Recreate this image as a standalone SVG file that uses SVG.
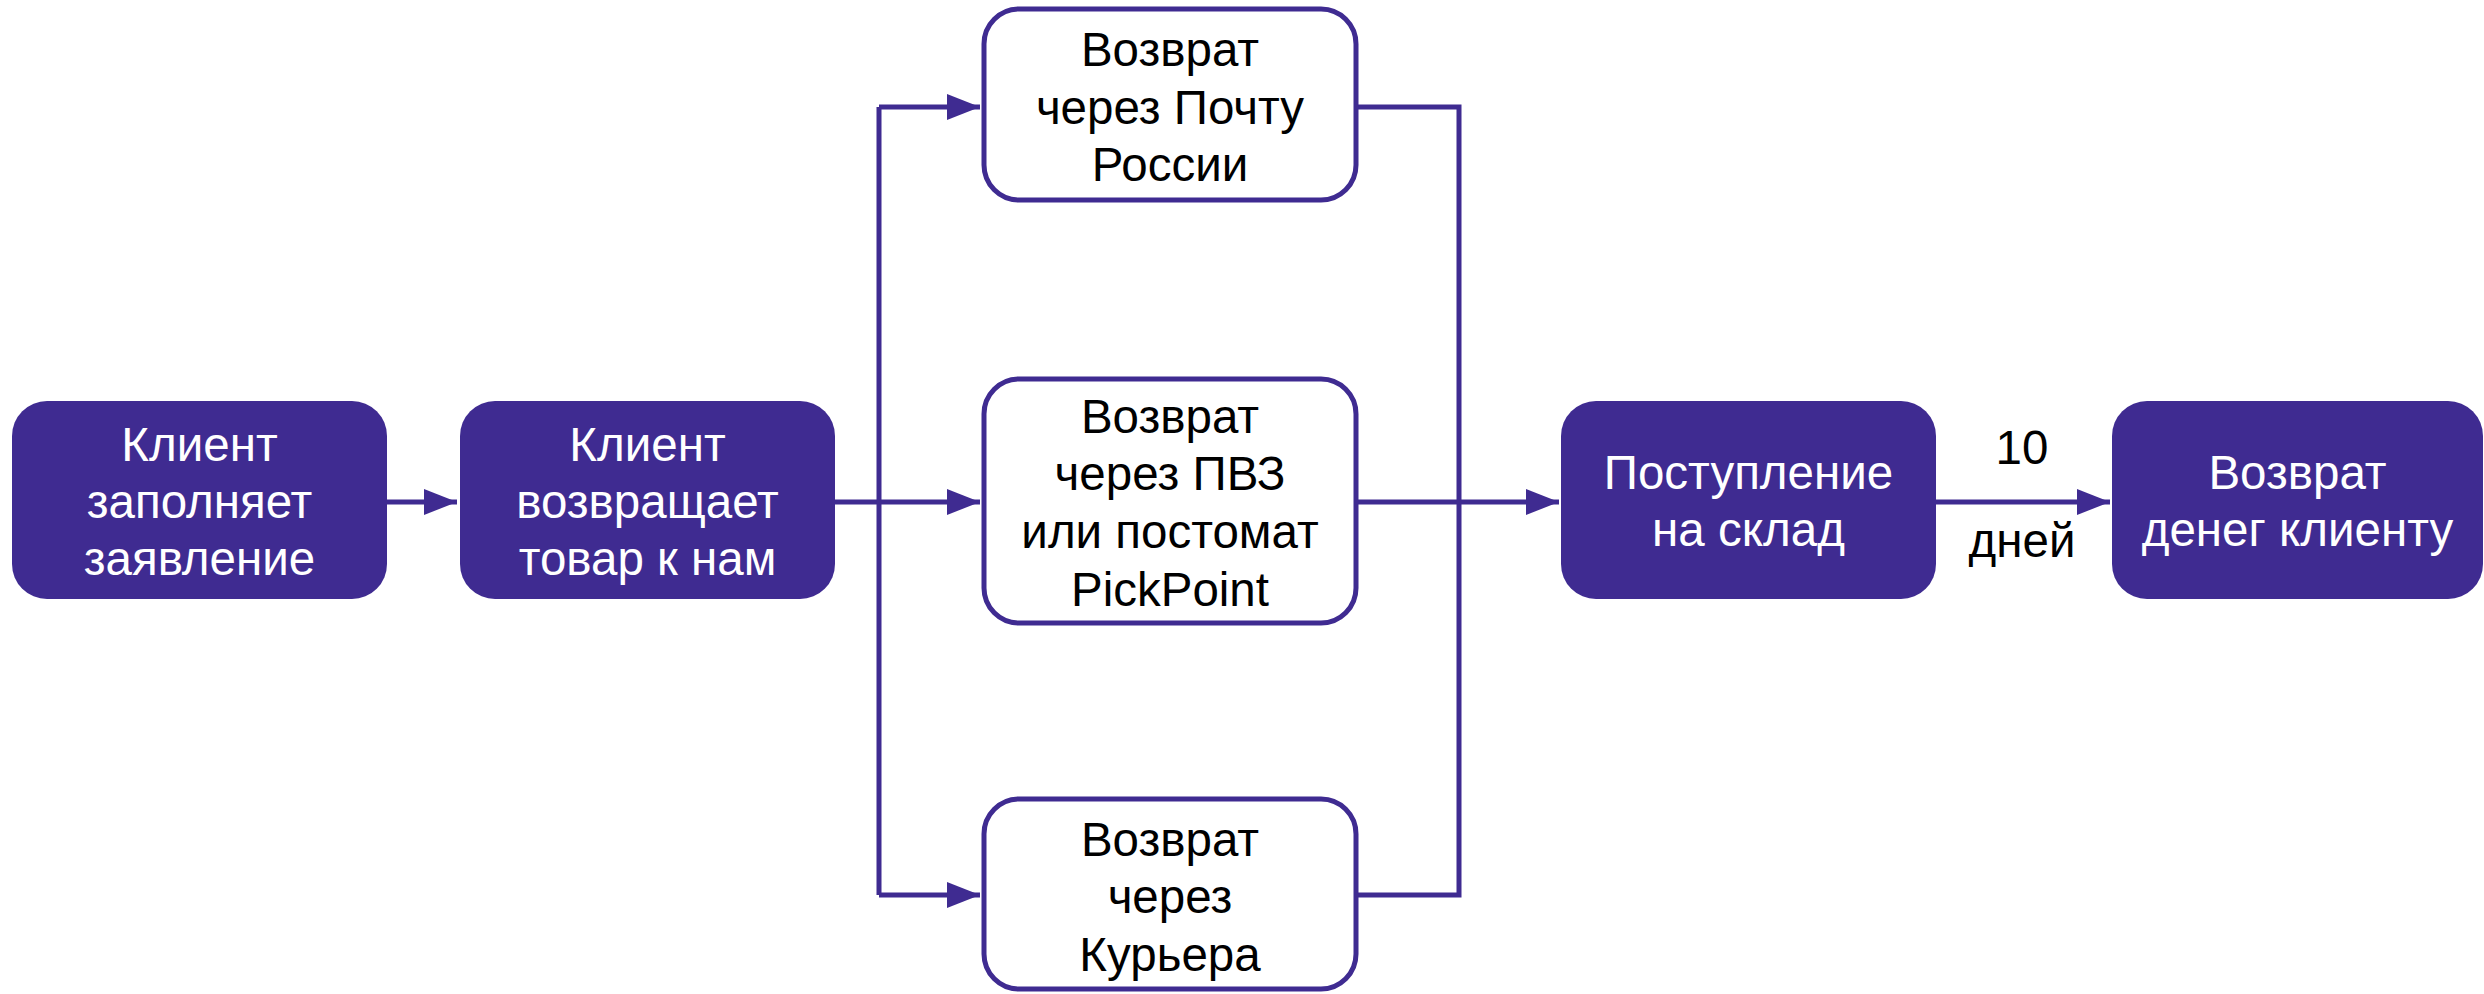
<svg xmlns="http://www.w3.org/2000/svg" width="2484" height="994" viewBox="0 0 2484 994">
<style>
.f{fill:#3f2b91;}
.o{fill:#ffffff;stroke:#3f2b91;stroke-width:5;}
.t{font-family:"Liberation Sans",Arial,sans-serif;font-size:47.5px;text-anchor:middle;}
.w{fill:#ffffff;}
.k{fill:#000000;}
.c{fill:none;stroke:#3f2b91;stroke-width:5;}
</style>
<defs>
<marker id="ah" markerUnits="userSpaceOnUse" markerWidth="34" markerHeight="26" refX="33" refY="13" orient="auto">
<path d="M0,0 L33,13 L0,26 Z" fill="#3f2b91"/>
</marker>
</defs>
<rect width="2484" height="994" fill="#ffffff"/>
<g id="connectors">
<path class="c" d="M387,502 H457" marker-end="url(#ah)"/>
<path class="c" d="M835,502 H879"/>
<path class="c" d="M879,107 V895"/>
<path class="c" d="M879,107 H980" marker-end="url(#ah)"/>
<path class="c" d="M879,502 H980" marker-end="url(#ah)"/>
<path class="c" d="M879,895 H980" marker-end="url(#ah)"/>
<path class="c" d="M1358,107 H1459 V895 H1358"/>
<path class="c" d="M1358,502 H1559" marker-end="url(#ah)"/>
<path class="c" d="M1936,502 H2110" marker-end="url(#ah)"/>
<text class="t k" x="2022" y="464">10</text>
<text class="t k" x="2022" y="557">дней</text>
</g>
<g id="n1">
<rect class="f" x="12" y="401" width="375" height="198" rx="35"/>
<text class="t w" x="199.5" y="461">Клиент</text>
<text class="t w" x="199.5" y="518">заполняет</text>
<text class="t w" x="199.5" y="575">заявление</text>
</g>
<g id="n2">
<rect class="f" x="460" y="401" width="375" height="198" rx="35"/>
<text class="t w" x="647.5" y="461">Клиент</text>
<text class="t w" x="647.5" y="518">возвращает</text>
<text class="t w" x="647.5" y="575">товар к нам</text>
</g>
<g id="n3">
<rect class="o" x="984" y="9" width="372" height="191" rx="35"/>
<text class="t k" x="1170" y="66">Возврат</text>
<text class="t k" x="1170" y="124">через Почту</text>
<text class="t k" x="1170" y="181">России</text>
</g>
<g id="n4">
<rect class="o" x="984" y="379" width="372" height="244" rx="35"/>
<text class="t k" x="1170" y="433">Возврат</text>
<text class="t k" x="1170" y="490">через ПВЗ</text>
<text class="t k" x="1170" y="548">или постомат</text>
<text class="t k" x="1170" y="606">PickPoint</text>
</g>
<g id="n5">
<rect class="o" x="984" y="799" width="372" height="190" rx="35"/>
<text class="t k" x="1170" y="856">Возврат</text>
<text class="t k" x="1170" y="913">через</text>
<text class="t k" x="1170" y="971">Курьера</text>
</g>
<g id="n6">
<rect class="f" x="1561" y="401" width="375" height="198" rx="35"/>
<text class="t w" x="1748.5" y="489">Поступление</text>
<text class="t w" x="1748.5" y="546">на склад</text>
</g>
<g id="n7">
<rect class="f" x="2112" y="401" width="371" height="198" rx="35"/>
<text class="t w" x="2297.5" y="489">Возврат</text>
<text class="t w" x="2297.5" y="546">денег клиенту</text>
</g>
</svg>
